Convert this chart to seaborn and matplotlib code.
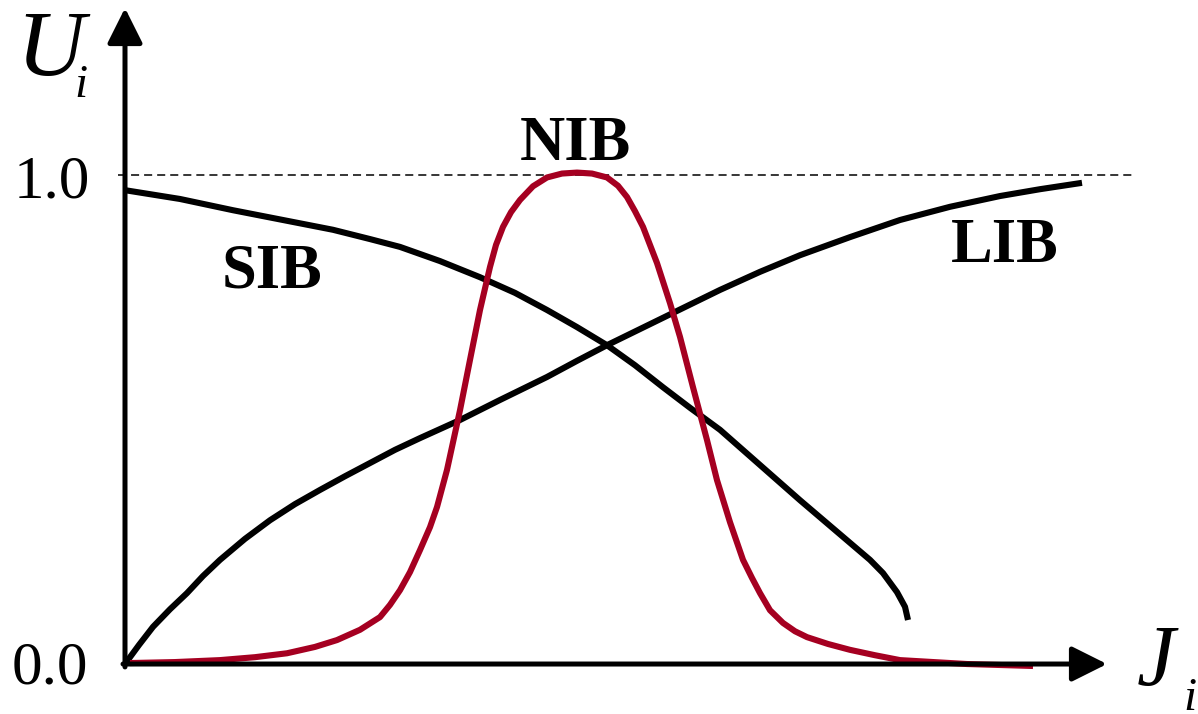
import matplotlib
matplotlib.use("Agg")
import matplotlib.pyplot as plt
import seaborn as sns
import pandas as pd

# Utility curves U_i as a function of J_i for the three index types
sib_x = [0.0, 0.55, 1.08, 1.58, 2.08, 2.45, 2.75, 3.15, 3.55, 3.90, 4.22, 4.52, 4.82,
         5.10, 5.38, 5.65, 5.95, 6.35, 6.75, 7.10, 7.45, 7.58, 7.72, 7.80, 7.83]
sib_y = [0.969, 0.951, 0.928, 0.908, 0.888, 0.869, 0.853, 0.824, 0.791, 0.759, 0.724,
         0.689, 0.652, 0.611, 0.566, 0.524, 0.479, 0.407, 0.335, 0.274, 0.213, 0.186,
         0.147, 0.117, 0.090]

lib_x = [0.0, 0.14, 0.28, 0.45, 0.62, 0.78, 0.95, 1.20, 1.45, 1.70, 1.95, 2.20, 2.45,
         2.70, 2.95, 3.35, 3.75, 4.22, 4.52, 4.82, 5.15, 5.48, 5.95, 6.35, 6.75, 7.25,
         7.75, 8.25, 8.75, 9.15, 9.57]
lib_y = [0.0, 0.039, 0.076, 0.112, 0.145, 0.180, 0.213, 0.256, 0.294, 0.327, 0.356,
         0.384, 0.411, 0.438, 0.462, 0.499, 0.540, 0.587, 0.620, 0.652, 0.685, 0.718,
         0.765, 0.802, 0.836, 0.873, 0.908, 0.935, 0.957, 0.971, 0.984]

nib_x = [0.05, 0.50, 0.95, 1.30, 1.62, 1.90, 2.12, 2.35, 2.55, 2.65, 2.75, 2.85, 2.95,
         3.05, 3.12, 3.22, 3.35, 3.45, 3.55, 3.65, 3.71, 3.78, 3.86, 3.95, 4.08, 4.22,
         4.37, 4.52, 4.67, 4.82, 4.93, 5.02, 5.10, 5.18, 5.25, 5.32, 5.45, 5.55, 5.68,
         5.82, 5.92, 6.05, 6.18, 6.27, 6.35, 6.45, 6.58, 6.70, 6.82, 7.03, 7.25, 7.50,
         7.75, 8.42, 9.08]
nib_y = [0.002, 0.004, 0.008, 0.014, 0.022, 0.035, 0.049, 0.070, 0.096, 0.121, 0.151,
         0.188, 0.233, 0.280, 0.321, 0.397, 0.519, 0.622, 0.724, 0.812, 0.857, 0.894,
         0.924, 0.949, 0.977, 0.995, 1.003, 1.005, 1.003, 0.995, 0.978, 0.955, 0.926,
         0.894, 0.857, 0.820, 0.738, 0.669, 0.566, 0.458, 0.376, 0.290, 0.213, 0.176,
         0.145, 0.110, 0.084, 0.067, 0.055, 0.041, 0.029, 0.018, 0.008, 0.0, -0.004]

y_tick_labels = ["0.0", "1.0"]

sns.set_theme(style="white")
plt.rcParams["font.family"] = ["Liberation Serif", "DejaVu Serif"]
plt.rcParams["text.color"] = "black"
plt.rcParams["lines.scale_dashes"] = False

fig = plt.figure(figsize=(11.98, 7.14), dpi=100)
ax = fig.add_axes([0, 0, 1, 1])
ax.set_xlim(-1.25, 10.73)
ax.set_ylim(-0.1022, 1.3579)
ax.axis("off")

df = pd.concat([
    pd.DataFrame({"J": sib_x, "U": sib_y, "curve": "SIB"}),
    pd.DataFrame({"J": lib_x, "U": lib_y, "curve": "LIB"}),
    pd.DataFrame({"J": nib_x, "U": nib_y, "curve": "NIB"}),
], ignore_index=True)

palette = {"SIB": "black", "LIB": "black", "NIB": "#A50021"}
sns.lineplot(data=df, x="J", y="U", hue="curve", palette=palette, sort=False,
             estimator=None, linewidth=4.4, legend=False, ax=ax, zorder=3)
for line in ax.lines:
    line.set_solid_joinstyle("round")
    line.set_solid_capstyle("butt")

# Reference level U = 1
ax.plot([-0.07, 10.1], [1.0, 1.0], color="black", lw=1.1,
        linestyle="--", dashes=(5.8, 3.6), zorder=2)

# Axes with arrowheads
arrow = dict(arrowstyle="-|>,head_length=0.4,head_width=0.2", lw=3.6,
             color="black", mutation_scale=54, shrinkA=0, shrinkB=0)
ax.annotate("", xy=(0, 1.3415), xytext=(0, -0.006), arrowprops=arrow, zorder=4)
ax.annotate("", xy=(9.82, 0), xytext=(-0.02, 0), arrowprops=arrow, zorder=4)

# Tick labels
ax.text(-0.35, 0.955, y_tick_labels[1], fontsize=44, color="black",
        ha="right", va="baseline")
ax.text(-0.37, -0.039, y_tick_labels[0], fontsize=44, color="black",
        ha="right", va="baseline")

# Axis titles
ax.text(-1.09, 1.2045, "U", fontsize=68, style="italic", color="black",
        ha="left", va="baseline")
ax.text(-0.51, 1.159, "i", fontsize=34, style="italic", color="black",
        ha="left", va="baseline")
ax.text(10.12, -0.043, "J", fontsize=62, style="italic", color="black",
        ha="left", va="baseline")
ax.text(10.58, -0.094, "i", fontsize=34, style="italic", color="black",
        ha="left", va="baseline")

# Curve labels
ax.text(4.5, 1.031, "NIB", fontsize=45, fontweight="bold", color="black",
        ha="center", va="baseline")
ax.text(1.47, 0.769, "SIB", fontsize=45, fontweight="bold", color="black",
        ha="center", va="baseline")
ax.text(8.80, 0.822, "LIB", fontsize=45, fontweight="bold", color="black",
        ha="center", va="baseline")

fig.savefig("out.png", dpi=100)
